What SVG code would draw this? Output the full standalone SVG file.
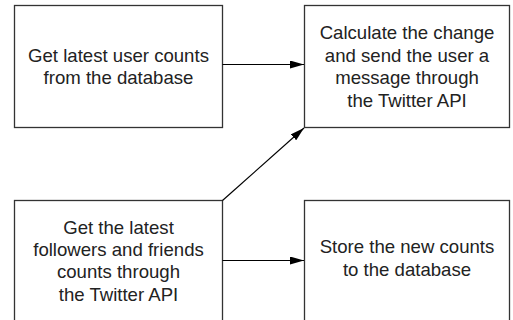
<svg xmlns="http://www.w3.org/2000/svg" width="513" height="320" viewBox="0 0 513 320">
<style>
.box{fill:#fff;stroke:#333;stroke-width:1.3}
.t{font-family:"Liberation Sans",Arial,sans-serif;font-size:18.6px;fill:#222;text-anchor:middle}
.c{stroke:#000;stroke-width:1.2;fill:none}
</style>
<defs>
<marker id="ah" markerWidth="14" markerHeight="8" refX="14" refY="4" orient="auto" markerUnits="userSpaceOnUse">
<path d="M0,0 L14,4 L0,8 Z" fill="#000"/>
</marker>
</defs>
<rect width="513" height="320" fill="#fff"/>
<g id="n1">
<rect class="box" x="14.5" y="5.5" width="208" height="122"/>
<text class="t" x="118.5" y="61.5">Get latest user counts</text>
<text class="t" x="118.5" y="83.5">from the database</text>
</g>
<g id="n2">
<rect class="box" x="304.5" y="5.5" width="205" height="122"/>
<text class="t" x="407" y="39">Calculate the change</text>
<text class="t" x="407" y="61.5">and send the user a</text>
<text class="t" x="407" y="84">message through</text>
<text class="t" x="407" y="106.5">the Twitter API</text>
</g>
<g id="n3">
<rect class="box" x="14.5" y="200.5" width="208" height="125"/>
<text class="t" x="118.5" y="234">Get the latest</text>
<text class="t" x="118.5" y="256">followers and friends</text>
<text class="t" x="118.5" y="278.3">counts through</text>
<text class="t" x="118.5" y="300.5">the Twitter API</text>
</g>
<g id="n4">
<rect class="box" x="304.5" y="200.5" width="205" height="125"/>
<text class="t" x="407" y="253.3">Store the new counts</text>
<text class="t" x="407" y="276">to the database</text>
</g>
<g id="connectors">
<line class="c" x1="222.5" y1="64.5" x2="304" y2="64.5" marker-end="url(#ah)"/>
<line class="c" x1="222.5" y1="200.5" x2="304" y2="128" marker-end="url(#ah)"/>
<line class="c" x1="222.5" y1="260.5" x2="304" y2="260.5" marker-end="url(#ah)"/>
</g>
</svg>
